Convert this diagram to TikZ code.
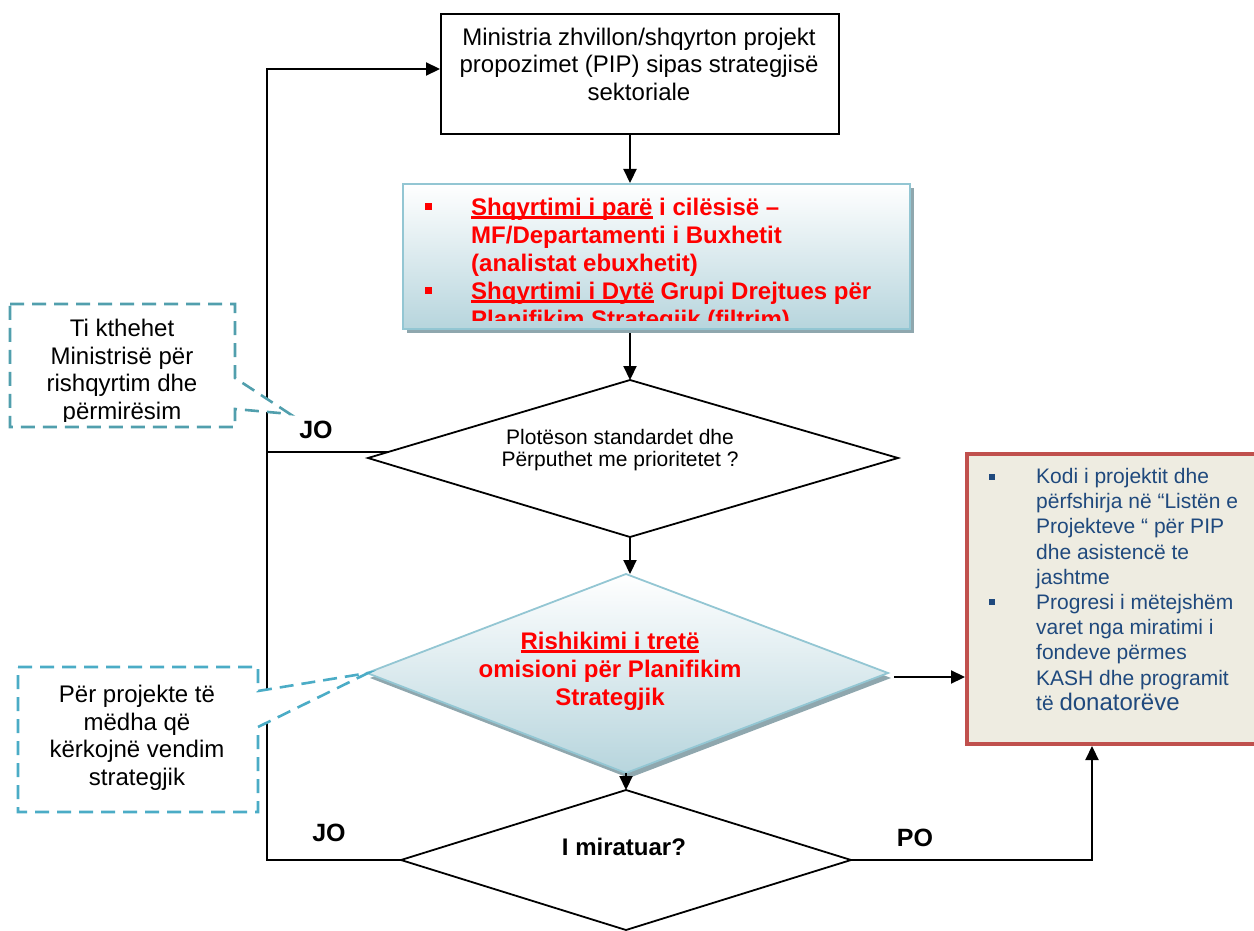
\documentclass[tikz,border=0pt]{standalone}
\usepackage{fontspec}
\setmainfont{Liberation Sans}
\newcommand{\myul}[1]{\setbox0\hbox{#1}\rlap{\rule[-3.5pt]{\wd0}{2.2pt}}\box0\relax}
\usetikzlibrary{arrows.meta}
\definecolor{redc}{HTML}{FF0000}
\definecolor{blueborder}{HTML}{93C6D3}
\definecolor{bluebot}{HTML}{B7D5DD}
\definecolor{shadowc}{HTML}{8FA7AE}
\definecolor{calloutA}{HTML}{519FAD}
\definecolor{calloutB}{HTML}{4BACC6}
\definecolor{rborder}{HTML}{C0504D}
\definecolor{rfill}{HTML}{EEECE1}
\definecolor{navy}{HTML}{1F497D}
\begin{document}
\begin{tikzpicture}[x=1pt,y=-1pt,
  conn/.style={line width=2.2pt,draw=black,line join=miter},
  arr/.style={conn,-{Triangle[length=14pt,width=13pt]}},
  shapeline/.style={line width=1.8pt,draw=black,fill=white},
  bluefill/.style={top color=white,bottom color=bluebot,draw=blueborder,line width=1.8pt},
  callA/.style={draw=calloutA,fill=white,line width=2.6pt,dash pattern=on 14pt off 8pt},
  callB/.style={draw=calloutB,fill=white,line width=2.6pt,dash pattern=on 14pt off 8pt},
  sq/.style={rectangle,inner sep=0pt,minimum size=#1},
  lbl/.style={font=\fontsize{25}{25}\selectfont\bfseries},
  every node/.style={inner sep=0pt}]
\useasboundingbox (0,0) rectangle (1254,931);
\begin{scope}
\clip (0,0) rectangle (1254,931);

% ---------- coordinates ----------
\coordinate (d1t) at (630,380);
\coordinate (d1r) at (898,458);
\coordinate (d1b) at (630,537);
\coordinate (d1l) at (368,458);
\coordinate (d2t) at (626,574);
\coordinate (d2r) at (888,673);
\coordinate (d2b) at (626,773);
\coordinate (d2l) at (367,673);
\coordinate (d3t) at (626,790);
\coordinate (d3r) at (851,860);
\coordinate (d3b) at (626,930);
\coordinate (d3l) at (401,860);
\coordinate (lt) at (267,69);
\coordinate (lb) at (267,860);
\coordinate (jos) at (267,452);
\coordinate (joe) at (388.2,452);
\coordinate (bshadow) at (630,333);
\coordinate (a2s) at (894,677);
\coordinate (poc) at (1092,860);

% ---------- top box ----------
\node[draw,line width=1.8pt,anchor=north west,minimum width=398pt,minimum height=120pt] (top) at (440,13) {};
\node[font=\fontsize{24}{27.5}\selectfont,align=center] (toptext) at (639,64)
  {Ministria zhvillon/shqyrton projekt\\propozimet (PIP) sipas strategjisë\\sektoriale};

% ---------- blue box ----------
\fill[shadowc] (407,188) rectangle (914,333);
\node[bluefill,anchor=north west,minimum width=507pt,minimum height=145pt] (blue) at (402,183) {};
\node[sq=7pt,fill=redc] (bb1) at (428,207) {};
\node[sq=7pt,fill=redc] (bb2) at (428,290) {};
\begin{scope}
\clip (402,183) rectangle (909,320);
\node[anchor=north west,align=left,text=redc,font=\fontsize{24}{28}\selectfont\bfseries] (bluetext) at (471,197.5)
  {\myul{Shqyrtimi i parë} i cilësisë –\\MF/Departamenti i Buxhetit\\(analistat ebuxhetit)\\\myul{Shqyrtimi i Dytë} Grupi Drejtues për\\Planifikim Strategjik (filtrim)};
\end{scope}

% ---------- diamond 1 ----------
\draw[shapeline] (d1t) -- (d1r) -- (d1b) -- (d1l) -- cycle;
\node[font=\fontsize{21}{22}\selectfont,align=center] (d1text) at (620,450)
  {Plotëson standardet dhe\\Përputhet me prioritetet ?};

% ---------- diamond 2 ----------
\fill[shadowc] (d2t) ++(3,5) -- ++(262,99) -- ++(-262,100) -- ++(-259,-100) -- cycle;
\draw[bluefill] (d2t) -- (d2r) -- (d2b) -- (d2l) -- cycle;
\node[font=\fontsize{24}{28}\selectfont\bfseries,text=redc,align=center] (d2text) at (610,671)
  {\myul{Rishikimi i tretë}\\omisioni për Planifikim\\Strategjik};

% ---------- diamond 3 ----------
\draw[shapeline] (d3t) -- (d3r) -- (d3b) -- (d3l) -- cycle;
\node[font=\fontsize{24}{24}\selectfont\bfseries] (d3text) at (624,847) {I miratuar?};

% ---------- right box ----------
\node[draw=rborder,fill=rfill,line width=4pt,anchor=north west,minimum width=300pt,minimum height=290pt] (rbox) at (965,452) {};
\node[sq=6pt,fill=navy] (rb1) at (992,477) {};
\node[sq=6pt,fill=navy] (rb2) at (992,602) {};
\node[anchor=north west,align=left,text=navy,font=\fontsize{21}{25.2}\selectfont] (rtext) at (1036,468)
  {Kodi i projektit dhe\\përfshirja në “Listën e\\Projekteve “ për PIP\\dhe asistencë te\\jashtme\\Progresi i mëtejshëm\\varet nga miratimi i\\fondeve përmes\\KASH dhe programit\\të {\fontsize{24}{25.2}\selectfont donatorëve}};

% ---------- connectors ----------
\draw[arr] (top.south -| d1t) -- (blue.north -| d1t);
\draw[arr] (bshadow) -- (d1t);
\draw[arr] (d1b) -- (d1b |- d2t);
\draw[arr] (d2b) -- (d3t);
\draw[arr] (a2s) -- (a2s -| rbox.west);
\draw[arr] (d3r) -- (poc) -- (poc |- rbox.south);
\draw[arr] (d3l) -- (lb) -- (lt) -- (lt -| top.west);
\draw[conn] (jos) -- (joe);

\node[lbl] (jo1) at (316,430) {JO};
\node[lbl] (jo2) at (329,833) {JO};
\node[lbl] (po) at (915,838) {PO};

% ---------- callouts ----------
\draw[callA] (10,304) -- (235,304) -- (235,378) -- (290,414) -- (235,409) -- (235,427) -- (10,427) -- cycle;
\begin{scope}
\clip (10,304) rectangle (235,421);
\node[font=\fontsize{24}{27.5}\selectfont,align=center] (c1text) at (122,372)
  {Ti kthehet\\Ministrisë për\\rishqyrtim dhe\\përmirësim};
\end{scope}
\draw[callB] (18,667) -- (258,667) -- (258,691) -- (368,673) -- (258,727) -- (258,812) -- (18,812) -- cycle;
\node[font=\fontsize{24}{27.5}\selectfont,align=center] (c2text) at (137,738)
  {Për projekte të\\mëdha që\\kërkojnë vendim\\strategjik};
\end{scope}
\end{tikzpicture}
\end{document}
